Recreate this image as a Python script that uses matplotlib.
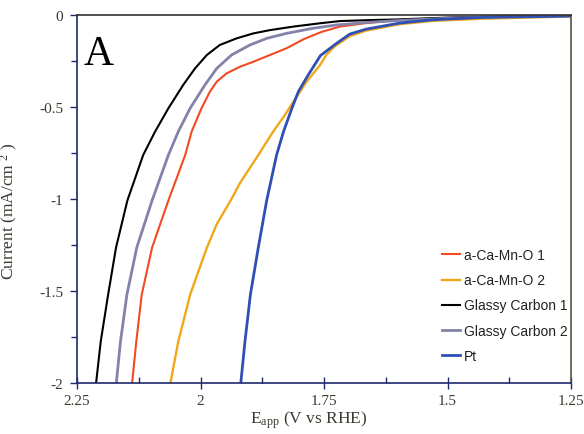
import matplotlib
matplotlib.use("Agg")
import matplotlib.pyplot as plt
from matplotlib.ticker import FixedLocator, MultipleLocator

# ---------------- data ----------------
labels = ["a-Ca-Mn-O 1", "a-Ca-Mn-O 2", "Glassy Carbon 1", "Glassy Carbon 2", "Pt"]
colors = ["#f24a22", "#f0a81a", "#000000", "#8282aa", "#2f4fb4"]

e_gc1 = [1.25, 1.40, 1.50, 1.60, 1.66, 1.718, 1.758, 1.812, 1.859, 1.893, 1.927, 1.961, 1.987,
         2.011, 2.035, 2.065, 2.092, 2.116, 2.148, 2.171, 2.187, 2.202, 2.212]
i_gc1 = [-0.002, -0.008, -0.014, -0.024, -0.028, -0.033, -0.045, -0.063, -0.082, -0.100, -0.127, -0.163, -0.217,
         -0.290, -0.380, -0.507, -0.634, -0.761, -1.008, -1.264, -1.520, -1.775, -2.016]

e_gc2 = [1.25, 1.40, 1.50, 1.60, 1.66, 1.724, 1.772, 1.826, 1.866, 1.900, 1.937, 1.967, 1.991,
         2.021, 2.045, 2.065, 2.098, 2.129, 2.149, 2.162, 2.171]
i_gc2 = [-0.003, -0.010, -0.018, -0.030, -0.040, -0.054, -0.072, -0.100, -0.127, -0.163, -0.217, -0.290, -0.380,
         -0.507, -0.634, -0.761, -1.008, -1.264, -1.520, -1.775, -2.016]

e_cmo1 = [1.25, 1.40, 1.497, 1.597, 1.665, 1.718, 1.755, 1.790, 1.826, 1.859, 1.893, 1.920, 1.947,
          1.967, 1.981, 1.998, 2.018, 2.031, 2.065, 2.098, 2.119, 2.130, 2.139]
i_cmo1 = [-0.004, -0.009, -0.016, -0.027, -0.044, -0.063, -0.092, -0.130, -0.181, -0.217, -0.254, -0.281, -0.317,
          -0.362, -0.417, -0.507, -0.634, -0.761, -1.008, -1.264, -1.520, -1.775, -2.016]

e_cmo2 = [1.25, 1.429, 1.53, 1.597, 1.665, 1.698, 1.728, 1.745, 1.758, 1.785, 1.812, 1.829, 1.853,
          1.883, 1.920, 1.939, 1.967, 1.987, 2.021, 2.045, 2.062]
i_cmo2 = [-0.008, -0.020, -0.032, -0.050, -0.085, -0.115, -0.170, -0.215, -0.272, -0.362, -0.471, -0.543, -0.634,
          -0.761, -0.913, -1.008, -1.136, -1.264, -1.520, -1.775, -2.016]

e_pt = [1.25, 1.429, 1.53, 1.597, 1.665, 1.698, 1.725, 1.757, 1.782, 1.802, 1.815, 1.832,
        1.846, 1.866, 1.883, 1.899, 1.910, 1.919]
i_pt = [-0.006, -0.013, -0.026, -0.044, -0.077, -0.104, -0.155, -0.220, -0.326, -0.417, -0.507, -0.634,
        -0.761, -1.008, -1.264, -1.520, -1.775, -2.016]

x_ticks = [2.25, 2.0, 1.75, 1.5, 1.25]
x_ticklabels = ["2.25", "2", "1.75", "1.5", "1.25"]
y_ticks = [0, -0.5, -1, -1.5, -2]
y_ticklabels = ["0", "-0.5", "-1", "-1.5", "-2"]

# ---------------- figure ----------------
plt.rcParams["mathtext.fontset"] = "custom"
plt.rcParams["mathtext.rm"] = "Liberation Serif"
plt.rcParams["mathtext.it"] = "Liberation Serif:italic"

fig = plt.figure(figsize=(5.84, 4.35), dpi=100)
ax = fig.add_axes([77 / 584, 1 - 384 / 435, (571 - 77) / 584, (384 - 16) / 435])

series = [(e_cmo1, i_cmo1), (e_cmo2, i_cmo2), (e_gc1, i_gc1), (e_gc2, i_gc2), (e_pt, i_pt)]
widths = [1.5, 1.7, 1.5, 2.0, 2.0]
for (e, i), lab, c, w in zip(series, labels, colors, widths):
    ax.plot(e, i, color=c, lw=w, label=lab, solid_joinstyle="round")

ax.set_xlim(2.25, 1.25)
ax.set_ylim(-2, 0)

serif = "Liberation Serif"
tcol = "#3a3a30"
ax.xaxis.set_major_locator(FixedLocator(x_ticks))
ax.set_xticklabels(x_ticklabels, family=serif, fontsize=11, color=tcol)
ax.yaxis.set_major_locator(FixedLocator(y_ticks))
ax.set_yticklabels(y_ticklabels, family=serif, fontsize=11, color=tcol)
ax.xaxis.set_minor_locator(MultipleLocator(0.125))
ax.yaxis.set_minor_locator(MultipleLocator(0.25))

ax.tick_params(axis="x", which="major", direction="inout", length=8, width=1.0,
               color="#1f2a6b", pad=4)
ax.tick_params(axis="x", which="minor", direction="in", length=4, width=1.0, color="#1f2a6b")
ax.tick_params(axis="y", which="major", direction="out", length=5, width=1.0,
               color="#1f2a6b", pad=5)
ax.tick_params(axis="y", which="minor", direction="out", length=4, width=1.0, color="#1f2a6b")

ax.spines["left"].set_color("#1f2a6b")
ax.spines["bottom"].set_color("#1f2a6b")
ax.spines["top"].set_color("#333333")
ax.spines["right"].set_color("#55553f")
for s in ax.spines.values():
    s.set_linewidth(1.2)

ax.set_xlabel(r"E$_{\mathrm{app}}$ (V vs RHE)", family=serif, fontsize=12.5, color=tcol)
ax.xaxis.set_label_coords(0.468, -0.068)
ax.set_ylabel(r"Current (mA/cm $^{2}$ )", family=serif, fontsize=12.5, color=tcol)
ax.yaxis.set_label_coords(-0.115, 0.47)

ax.text(0.014, 0.868, "A", transform=ax.transAxes, family=serif, fontsize=30,
        color="black", ha="left", va="baseline")

leg = ax.legend(loc="center left", bbox_to_anchor=(0.739, 0.2106), frameon=False,
                prop={"family": "Liberation Sans", "size": 10},
                handlelength=1.3, handletextpad=0.25, labelspacing=0.8,
                borderpad=0, borderaxespad=0)
for t in leg.get_texts():
    t.set_color("#222222")

fig.savefig("out.png", dpi=100)
